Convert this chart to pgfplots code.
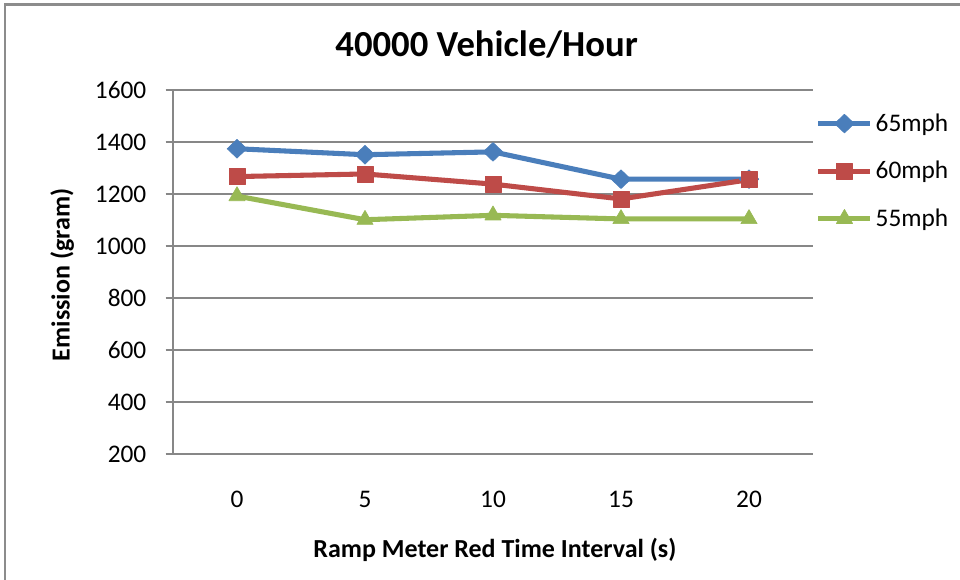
\documentclass[border=0pt]{standalone}
\usepackage{pgfplots}
\pgfplotsset{compat=1.18}
\usepackage{fontspec}
\setmainfont{Carlito}
\definecolor{sblue}{HTML}{4A7EBB}
\definecolor{sred}{HTML}{BE4B48}
\definecolor{sgreen}{HTML}{98B954}
\definecolor{gridc}{HTML}{878787}
\definecolor{framec}{HTML}{8C8C8C}
\begin{document}
\begin{tikzpicture}
\fill[white] (0pt,0pt) rectangle (720pt,435pt);
\draw[framec, line width=1.6pt] (3.75pt,-15pt) rectangle (740pt,431.6pt);
\begin{axis}[
  at={(129.75pt,94.5pt)}, anchor=south west,
  scale only axis, width=480pt, height=273pt,
  xmin=-0.5, xmax=4.5, ymin=200, ymax=1600,
  xtick={0,1,2,3,4}, xticklabels={0,5,10,15,20},
  ytick={200,400,...,1600},
  axis lines*=left, axis line style={-, gridc, line width=0.8pt},
  ymajorgrids, grid style={gridc, line width=0.8pt},
  tick align=outside, major tick length=5.5pt,
  xtick style={draw=none}, ytick style={gridc, line width=0.8pt},
  /pgf/number format/assume math mode=true,
  /pgf/number format/1000 sep={},
  tick label style={font=\fontsize{19}{22}\selectfont, text=black},
  yticklabel style={xshift=-11pt},
  xticklabel style={yshift=-19pt},
  label style={font=\bfseries\fontsize{19.5}{23}\selectfont},
  xlabel={Ramp Meter Red Time Interval (s)},
  xlabel style={at={(axis description cs:0.503,-0.264)}, anchor=center},
  ylabel={Emission (gram)},
  ylabel style={at={(axis description cs:-0.173,0.492)}, anchor=center, rotate=0},
  title={40000 Vehicle/Hour},
  title style={at={(axis description cs:0.49,1.102)}, anchor=center, font=\bfseries\fontsize{27.5}{32}\selectfont},
  legend style={at={(axis description cs:1.0,0.950)}, anchor=north west, draw=none, fill=none,
    font=\fontsize{19}{22}\selectfont, row sep=17pt, inner sep=2pt,
    /tikz/every even column/.append style={column sep=1pt}},
  legend cell align=left,
  legend image code/.code={\draw[mark repeat=2,mark phase=2] plot coordinates {(0pt,0pt) (19.5pt,0pt) (39pt,0pt)};},
  every axis plot/.append style={line width=3.8pt, line join=round},
]
\addplot[sblue, mark=diamond*, mark size=7pt, mark options={xscale=1.4, line width=0.5pt}] coordinates {(0,1374) (1,1351) (2,1362) (3,1257) (4,1257)};
\addlegendentry{65mph}
\addplot[sred, mark=square*, mark size=6pt, mark options={line width=0.5pt}] coordinates {(0,1267) (1,1277) (2,1238) (3,1181) (4,1255)};
\addlegendentry{60mph}
\addplot[sgreen, mark=triangle*, mark size=7pt, mark options={line width=0.5pt}] coordinates {(0,1192) (1,1101) (2,1118) (3,1104) (4,1104)};
\addlegendentry{55mph}
\end{axis}
\pgfresetboundingbox
\path[use as bounding box] (0pt,0pt) rectangle (720pt,435pt);
\end{tikzpicture}
\end{document}
